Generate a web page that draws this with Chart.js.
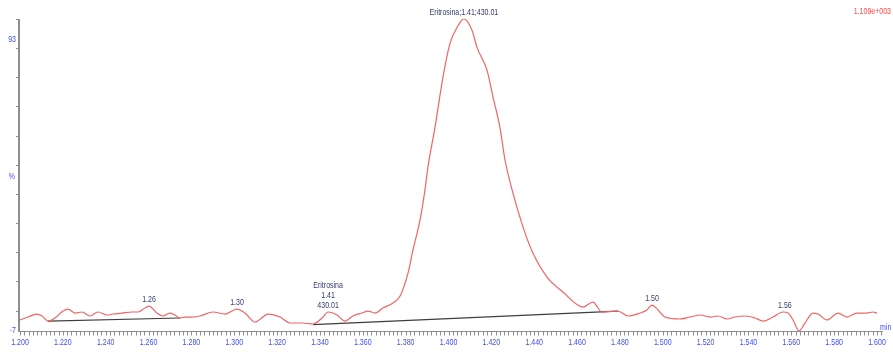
<!DOCTYPE html>
<html lang="en">
<head>
<meta charset="UTF-8">
<title>Eritrosina</title>
<style>
  body { margin: 0; background: #fff; }
  #wrap { width: 893px; height: 354px; }
</style>
<script src="https://cdn.jsdelivr.net/npm/chart.js@4.4.0/dist/chart.umd.min.js"></script>
</head>
<body>
<div id="wrap"><canvas id="chrom" width="893" height="354"></canvas></div>
<script>
// retention time (min) and relative intensity (%)
const times = [1.2000,1.2037,1.2079,1.2103,1.2131,1.2163,1.2201,1.2224,1.2257,1.2289,
  1.2327,1.2364,1.2406,1.2434,1.2476,1.2523,1.2551,1.2583,1.2602,1.2639,
  1.2667,1.2700,1.2723,1.2747,1.2770,1.2803,1.2840,1.2901,1.2957,1.3013,
  1.3050,1.3097,1.3158,1.3214,1.3260,1.3316,1.3368,1.3410,1.3438,1.3480,
  1.3517,1.3554,1.3596,1.3624,1.3657,1.3694,1.3741,1.3774,1.3811,
  1.3834,1.3867,1.3890,1.3904,1.3937,1.3974,1.4007,1.4040,1.4072,
  1.4110,1.4133,1.4180,1.4208,1.4240,1.4264,1.4301,1.4348,1.4394,1.4460,
  1.4534,1.4628,1.4674,1.4716,1.4791,1.4838,1.4894,1.4926,1.4950,1.4978,
  1.5010,1.5080,1.5127,1.5174,1.5221,1.5258,1.5300,1.5337,1.5384,1.5431,
  1.5468,1.5515,1.5561,1.5585,1.5608,1.5636,1.5664,1.5701,1.5725,1.5767,
  1.5818,1.5860,1.5907,1.5953,1.5981,1.6000];
const intensity = [-3.23,-2.21,-1.18,-1.86,-3.58,-2.55,-0.15,0.53,-0.84,-0.49,
  -1.86,-0.49,-1.52,-1.18,-0.84,-0.49,-0.49,0.88,1.56,-0.84,
  -1.86,-0.84,-1.52,-2.55,-2.21,-2.21,-1.86,-0.49,-1.18,0.53,
  -0.84,-3.92,-1.18,-2.21,-4.26,-4.26,-4.60,-2.55,-0.49,-1.52,
  -3.58,-1.86,-0.84,-0.15,-0.84,0.88,2.59,4.99,12.86,
  20.74,31.01,41.29,49.17,62.86,79.99,91.63,97.11,100.0,
  96.08,90.26,82.38,73.14,62.86,51.56,40.26,28.62,19.71,11.49,
  6.36,1.22,2.93,-0.49,-0.15,-1.86,-0.84,0.19,1.90,0.19,
  -2.21,-2.89,-2.21,-1.52,-2.21,-1.86,-2.89,-2.21,-1.86,-2.55,
  -3.58,-2.21,-0.49,-0.84,-3.23,-7.00,-4.26,-0.84,-1.18,-3.23,
  -0.84,-2.21,-0.84,-0.84,-0.49,-0.84];

// integration baselines
const base1Times = [1.2131, 1.2747];
const base1Vals = [-3.58, -2.55];
const base2Times = [1.3368, 1.4791];
const base2Vals = [-4.80, -0.15];

// peak annotations
const annotTimes = [1.2602, 1.3013, 1.3438, 1.4072, 1.4950, 1.5570];
const annotVals = [1.56, 0.53, -0.49, 99.85, 1.90, -0.49];
const annotTexts = [['1.26'], ['1.30'], ['Eritrosina', '1.41', '430.01'],
  ['Eritrosina;1.41;430.01'], ['1.50'], ['1.56']];

// axis ticks
const xLabelTicks = [1.200,1.220,1.240,1.260,1.280,1.300,1.320,1.340,1.360,1.380,1.400,
  1.420,1.440,1.460,1.480,1.500,1.520,1.540,1.560,1.580,1.600];
const yMinorTicks = [0,10,20,30,40,50,60,70,80,90,100];
const yLabels = ['93', '-7'];
const yLabelVals = [93, -7];

const FONT = '9px "Liberation Sans", Arial, sans-serif';
const SQUEEZE = 0.78;

const toXY = (ts, vs) => ts.map((t, i) => ({ x: t, y: vs[i] }));

// condensed text, the source software uses a narrow face
function narrowText(ctx, s, x, y) {
  ctx.save();
  ctx.translate(x, y);
  ctx.scale(SQUEEZE, 1);
  ctx.fillText(s, 0, 0);
  ctx.restore();
}

const axesPlugin = {
  id: 'axes',
  afterDraw(chart) {
    const ctx = chart.ctx, sx = chart.scales.x, sy = chart.scales.y, a = chart.chartArea;
    ctx.save();
    ctx.strokeStyle = '#8e8e8e';
    // y axis
    ctx.lineWidth = 2;
    ctx.beginPath();
    ctx.moveTo(a.left - 1, a.top);
    ctx.lineTo(a.left - 1, a.bottom);
    ctx.stroke();
    ctx.lineWidth = 1;
    ctx.beginPath();
    yMinorTicks.forEach(v => {
      const py = Math.round(sy.getPixelForValue(v)) + 0.5;
      ctx.moveTo(a.left - 4, py);
      ctx.lineTo(a.left - 1, py);
    });
    // x axis
    const by = Math.round(a.bottom) + 0.5;
    ctx.moveTo(a.left - 2, by);
    ctx.lineTo(a.right, by);
    for (let k = 0; k <= 201; k++) {
      const px = Math.round(sx.getPixelForValue(1.2 + k * 0.002)) + 0.5;
      if (px > a.right) break;
      ctx.moveTo(px, by);
      ctx.lineTo(px, by + 4);
    }
    ctx.stroke();

    ctx.font = FONT;
    ctx.textBaseline = 'middle';
    ctx.fillStyle = '#3f4ff2';
    ctx.textAlign = 'center';
    xLabelTicks.forEach(t => {
      narrowText(ctx, t.toFixed(3), sx.getPixelForValue(t), by + 11);
    });
    ctx.textAlign = 'left';
    narrowText(ctx, 'min', a.right - 3, by - 4);
    ctx.textAlign = 'right';
    yLabels.forEach((s, i) => narrowText(ctx, s, a.left - 4, sy.getPixelForValue(yLabelVals[i])));
    narrowText(ctx, '%', a.left - 5, sy.getPixelForValue(46));

    // annotations
    ctx.fillStyle = '#343a6e';
    ctx.textAlign = 'center';
    annotTexts.forEach((lines, i) => {
      const px = sx.getPixelForValue(annotTimes[i]);
      const py = sy.getPixelForValue(annotVals[i]) - 7;
      lines.forEach((s, j) => {
        narrowText(ctx, s, px, py - (lines.length - 1 - j) * 9.8);
      });
    });

    ctx.fillStyle = '#ff4747';
    ctx.textAlign = 'right';
    narrowText(ctx, '1.109e+003', 891, 12);
    ctx.restore();
  }
};

new Chart(document.getElementById('chrom'), {
  type: 'line',
  data: {
    datasets: [
      { data: toXY(times, intensity), borderColor: '#f26464', borderWidth: 1.2,
        cubicInterpolationMode: 'monotone', pointRadius: 0 },
      { data: toXY(base1Times, base1Vals), borderColor: '#3e3e3e', borderWidth: 1.2,
        tension: 0, pointRadius: 0 },
      { data: toXY(base2Times, base2Vals), borderColor: '#3e3e3e', borderWidth: 1.2,
        tension: 0, pointRadius: 0 }
    ]
  },
  options: {
    responsive: false,
    animation: false,
    devicePixelRatio: 1,
    layout: { padding: { left: 20, right: 10, top: 19, bottom: 23 } },
    plugins: { legend: { display: false }, tooltip: { enabled: false } },
    scales: {
      x: { type: 'linear', min: 1.2, max: 1.6028, display: false },
      y: { min: -7, max: 100, display: false }
    }
  },
  plugins: [axesPlugin]
});
</script>
</body>
</html>
